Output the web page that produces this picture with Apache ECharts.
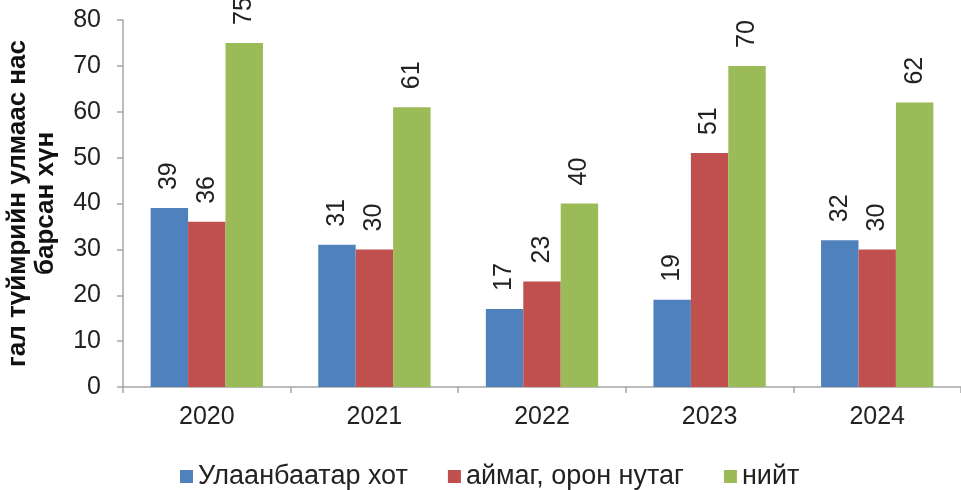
<!DOCTYPE html>
<html>
<head>
<meta charset="utf-8">
<script src="https://cdn.jsdelivr.net/npm/echarts@6/dist/echarts.min.js"></script>
<style>
  html, body { margin: 0; padding: 0; background: #fff; }
  #chart { width: 961px; height: 490px; }
</style>
</head>
<body>
<div id="chart"></div>
<script>
// данные
const years = ['2020', '2021', '2022', '2023', '2024'];
const ulaanbaatar = [39, 31, 17, 19, 32];
const aimag = [36, 30, 23, 51, 30];
const total = [75, 61, 40, 70, 62];

const FONT = '"Liberation Sans", Arial, sans-serif';
const AXIS_COLOR = '#a6a6a6';

const chart = echarts.init(document.getElementById('chart'));

function barLabel() {
  return {
    show: true,
    position: 'top',
    rotate: 90,
    align: 'left',
    verticalAlign: 'middle',
    distance: 18,
    fontFamily: FONT,
    fontSize: 25,
    color: '#222'
  };
}

const option = {
  animation: false,
  textStyle: { fontFamily: FONT },
  grid: { left: 123, right: 0, top: 20, bottom: 103, outerBoundsMode: 'none' },
  legend: {
    top: 458,
    left: 175,
    itemWidth: 13,
    itemHeight: 13,
    itemGap: 40,
    icon: 'rect',
    textStyle: { fontFamily: FONT, fontSize: 27, color: '#222' },
    data: ['Улаанбаатар хот', 'аймаг, орон нутаг', 'нийт']
  },
  xAxis: {
    type: 'category',
    data: years,
    axisLine: { lineStyle: { color: AXIS_COLOR, width: 1.5 } },
    axisTick: { show: true, length: 6, lineStyle: { color: AXIS_COLOR, width: 1.5 } },
    axisLabel: { fontSize: 25, color: '#222', margin: 18 }
  },
  yAxis: {
    type: 'value',
    min: 0,
    max: 80,
    interval: 10,
    name: 'гал түймрийн улмаас нас\nбарсан хүн',
    nameLocation: 'middle',
    nameGap: 63,
    nameTextStyle: { fontSize: 26, fontWeight: 'bold', color: '#111', lineHeight: 28 },
    axisLine: { show: true, lineStyle: { color: AXIS_COLOR, width: 1.5 } },
    axisTick: { show: true, length: 6, lineStyle: { color: AXIS_COLOR, width: 1.5 } },
    axisLabel: { fontSize: 25, color: '#222', margin: 22 },
    splitLine: { show: false }
  },
  series: [
    {
      name: 'Улаанбаатар хот',
      type: 'bar',
      data: ulaanbaatar,
      barGap: '0%',
      barCategoryGap: '33%',
      itemStyle: { color: '#4f81bd' },
      label: barLabel()
    },
    {
      name: 'аймаг, орон нутаг',
      type: 'bar',
      data: aimag,
      itemStyle: { color: '#c0504d' },
      label: barLabel()
    },
    {
      name: 'нийт',
      type: 'bar',
      data: total,
      itemStyle: { color: '#9bbb59' },
      label: barLabel()
    }
  ]
};

chart.setOption(option);
</script>
</body>
</html>
